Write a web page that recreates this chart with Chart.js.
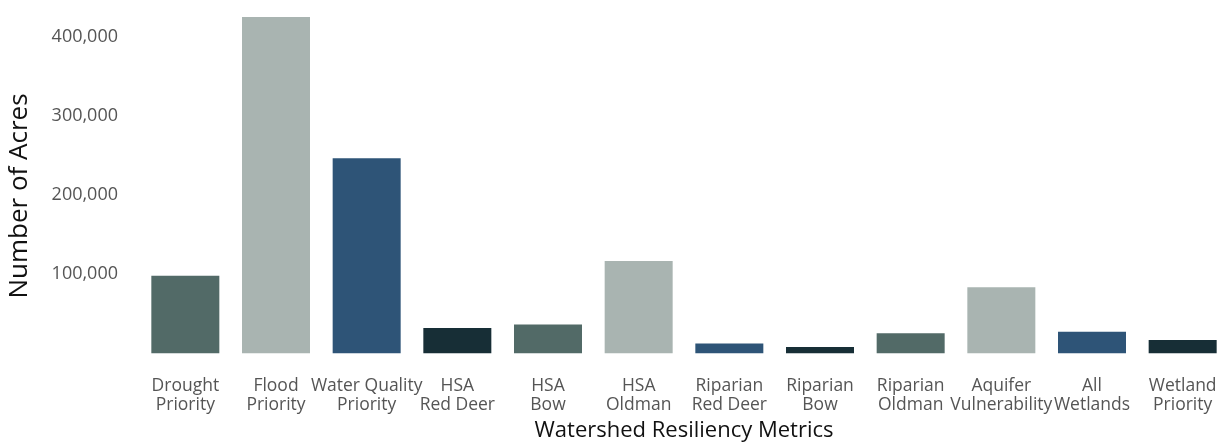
<!DOCTYPE html>
<html>
<head>
<meta charset="utf-8">
<script src="https://cdn.jsdelivr.net/npm/chart.js@4/dist/chart.umd.min.js"></script>
<style>
    body { margin: 0; background: #fff; overflow: hidden; }
    canvas { display: block; }
</style>
</head>
<body>
<canvas id="myChart" width="1240" height="443"></canvas>
<script>
const categories = [
    ['Drought', 'Priority'],
    ['Flood', 'Priority'],
    ['Water Quality', 'Priority'],
    ['HSA', 'Red Deer'],
    ['HSA', 'Bow'],
    ['HSA', 'Oldman'],
    ['Riparian', 'Red Deer'],
    ['Riparian', 'Bow'],
    ['Riparian', 'Oldman'],
    ['Aquifer', 'Vulnerability'],
    ['All', 'Wetlands'],
    ['Wetland', 'Priority']
];
const acres = [98000, 425500, 246800, 31900, 36400, 116900, 12300, 7800, 25300, 83700, 27200, 16700];
const palette = ['#526a67', '#a9b4b1', '#2e5477', '#172e36'];
const yTicks = [100000, 200000, 300000, 400000];

Chart.defaults.font.family = "'Open Sans', sans-serif";

function drawChart() {
    const ctx = document.getElementById('myChart');
    new Chart(ctx, {
        type: 'bar',
        data: {
            labels: categories,
            datasets: [{
                data: acres,
                backgroundColor: acres.map((v, i) => palette[i % palette.length]),
                borderWidth: 0,
                barPercentage: 0.75,
                categoryPercentage: 1
            }]
        },
        options: {
            responsive: false,
            animation: false,
            layout: { padding: { top: 15, right: 12, left: 0, bottom: 0 } },
            plugins: {
                legend: { display: false },
                tooltip: { enabled: false }
            },
            scales: {
                x: {
                    grid: { display: false, drawTicks: false },
                    border: { display: false },
                    ticks: {
                        color: '#555',
                        font: { size: 17.5, lineHeight: 1.07 },
                        padding: 0,
                        maxRotation: 0,
                        autoSkip: false
                    },
                    title: {
                        display: true,
                        text: 'Watershed Resiliency Metrics',
                        color: '#111',
                        font: { size: 22, lineHeight: 1.1 },
                        padding: { top: 0, bottom: 0 }
                    },
                    afterFit: (scale) => { scale.height = 66; }
                },
                y: {
                    min: -30000,
                    max: 428000,
                    grid: { display: false, drawTicks: false },
                    border: { display: false },
                    afterBuildTicks: (scale) => {
                        scale.ticks = yTicks.map(v => ({ value: v }));
                    },
                    ticks: {
                        color: '#555',
                        font: { size: 18 },
                        padding: 22,
                        callback: (v) => v.toLocaleString('en-US')
                    },
                    title: {
                        display: true,
                        text: 'Number of Acres',
                        color: '#111',
                        font: { size: 26 },
                        padding: { top: 4, bottom: 0 }
                    },
                    afterFit: (scale) => {
                        scale.width = 140;
                        scale.paddingTop = 0;
                        scale.paddingBottom = 0;
                    }
                }
            }
        }
    });
}

drawChart();
</script>
</body>
</html>
